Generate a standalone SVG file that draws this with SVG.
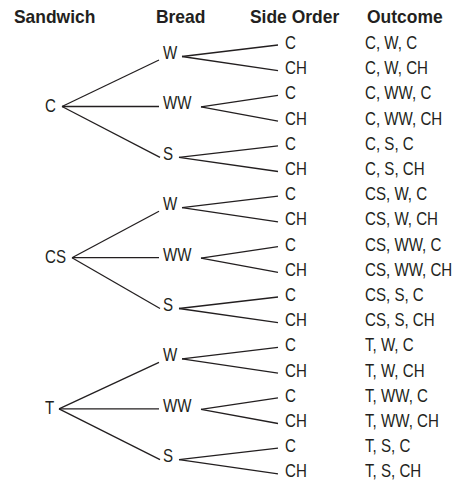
<svg xmlns="http://www.w3.org/2000/svg" width="461" height="483" viewBox="0 0 461 483">
<style>
text{font-family:"Liberation Sans",Arial,sans-serif;fill:#231f20;font-size:18px}
.h{font-weight:bold;font-size:18px}
#connectors line{stroke:#231f20;stroke-width:1.3;fill:none}
</style>
<rect width="461" height="483" fill="#fff"/>
<g id="headers" transform="scale(0.97 1)">
<text class="h" x="14.4" y="23">Sandwich</text>
<text class="h" x="160.8" y="23">Bread</text>
<text class="h" x="257.7" y="23">Side Order</text>
<text class="h" x="378.4" y="23">Outcome</text>
</g>
<g id="connectors">
<line x1="62" y1="106.5" x2="159" y2="60"/>
<line x1="62" y1="106.5" x2="159" y2="106.5"/>
<line x1="62" y1="106.5" x2="160" y2="157.3"/>
<line x1="72" y1="257.7" x2="159" y2="211.2"/>
<line x1="72" y1="257.7" x2="159" y2="257.7"/>
<line x1="72" y1="257.7" x2="160" y2="308.5"/>
<line x1="59" y1="408.9" x2="159" y2="362.4"/>
<line x1="59" y1="408.9" x2="159" y2="408.9"/>
<line x1="59" y1="408.9" x2="160" y2="459.7"/>
<line x1="182" y1="56.5" x2="278" y2="45"/>
<line x1="182" y1="56.5" x2="278" y2="70.7"/>
<line x1="201" y1="106.9" x2="278" y2="95.4"/>
<line x1="201" y1="106.9" x2="278" y2="121.1"/>
<line x1="179" y1="157.3" x2="278" y2="145.8"/>
<line x1="179" y1="157.3" x2="278" y2="171.5"/>
<line x1="182" y1="207.7" x2="278" y2="196.2"/>
<line x1="182" y1="207.7" x2="278" y2="221.9"/>
<line x1="201" y1="258.1" x2="278" y2="246.6"/>
<line x1="201" y1="258.1" x2="278" y2="272.3"/>
<line x1="179" y1="308.5" x2="278" y2="297"/>
<line x1="179" y1="308.5" x2="278" y2="322.7"/>
<line x1="182" y1="358.9" x2="278" y2="347.4"/>
<line x1="182" y1="358.9" x2="278" y2="373.1"/>
<line x1="201" y1="409.3" x2="278" y2="397.8"/>
<line x1="201" y1="409.3" x2="278" y2="423.5"/>
<line x1="179" y1="459.7" x2="278" y2="448.2"/>
<line x1="179" y1="459.7" x2="278" y2="473.9"/>
</g>
<g id="sandwich-C" transform="translate(45 0) scale(0.84 1)"><text y="112">C</text></g>
<g id="sandwich-CS" transform="translate(45 0) scale(0.84 1)"><text y="263.2">CS</text></g>
<g id="sandwich-T" transform="translate(45 0) scale(0.84 1)"><text y="414.4">T</text></g>
<g id="bread-C-W" transform="translate(163 0) scale(0.84 1)"><text y="59">W</text></g>
<g id="bread-C-WW" transform="translate(163 0) scale(0.84 1)"><text y="109.4">WW</text></g>
<g id="bread-C-S" transform="translate(163 0) scale(0.84 1)"><text y="159.8">S</text></g>
<g id="bread-CS-W" transform="translate(163 0) scale(0.84 1)"><text y="210.2">W</text></g>
<g id="bread-CS-WW" transform="translate(163 0) scale(0.84 1)"><text y="260.6">WW</text></g>
<g id="bread-CS-S" transform="translate(163 0) scale(0.84 1)"><text y="311">S</text></g>
<g id="bread-T-W" transform="translate(163 0) scale(0.84 1)"><text y="361.4">W</text></g>
<g id="bread-T-WW" transform="translate(163 0) scale(0.84 1)"><text y="411.8">WW</text></g>
<g id="bread-T-S" transform="translate(163 0) scale(0.84 1)"><text y="462.2">S</text></g>
<g id="side-orders" transform="translate(285 0) scale(0.84 1)">
<text y="49">C</text>
<text y="74.2">CH</text>
<text y="99.4">C</text>
<text y="124.6">CH</text>
<text y="149.8">C</text>
<text y="175">CH</text>
<text y="200.2">C</text>
<text y="225.4">CH</text>
<text y="250.6">C</text>
<text y="275.8">CH</text>
<text y="301">C</text>
<text y="326.2">CH</text>
<text y="351.4">C</text>
<text y="376.6">CH</text>
<text y="401.8">C</text>
<text y="427">CH</text>
<text y="452.2">C</text>
<text y="477.4">CH</text>
</g>
<g id="outcomes" transform="translate(365 0) scale(0.84 1)">
<text y="49">C, W, C</text>
<text y="74.2">C, W, CH</text>
<text y="99.4">C, WW, C</text>
<text y="124.6">C, WW, CH</text>
<text y="149.8">C, S, C</text>
<text y="175">C, S, CH</text>
<text y="200.2">CS, W, C</text>
<text y="225.4">CS, W, CH</text>
<text y="250.6">CS, WW, C</text>
<text y="275.8">CS, WW, CH</text>
<text y="301">CS, S, C</text>
<text y="326.2">CS, S, CH</text>
<text y="351.4">T, W, C</text>
<text y="376.6">T, W, CH</text>
<text y="401.8">T, WW, C</text>
<text y="427">T, WW, CH</text>
<text y="452.2">T, S, C</text>
<text y="477.4">T, S, CH</text>
</g>
</svg>
